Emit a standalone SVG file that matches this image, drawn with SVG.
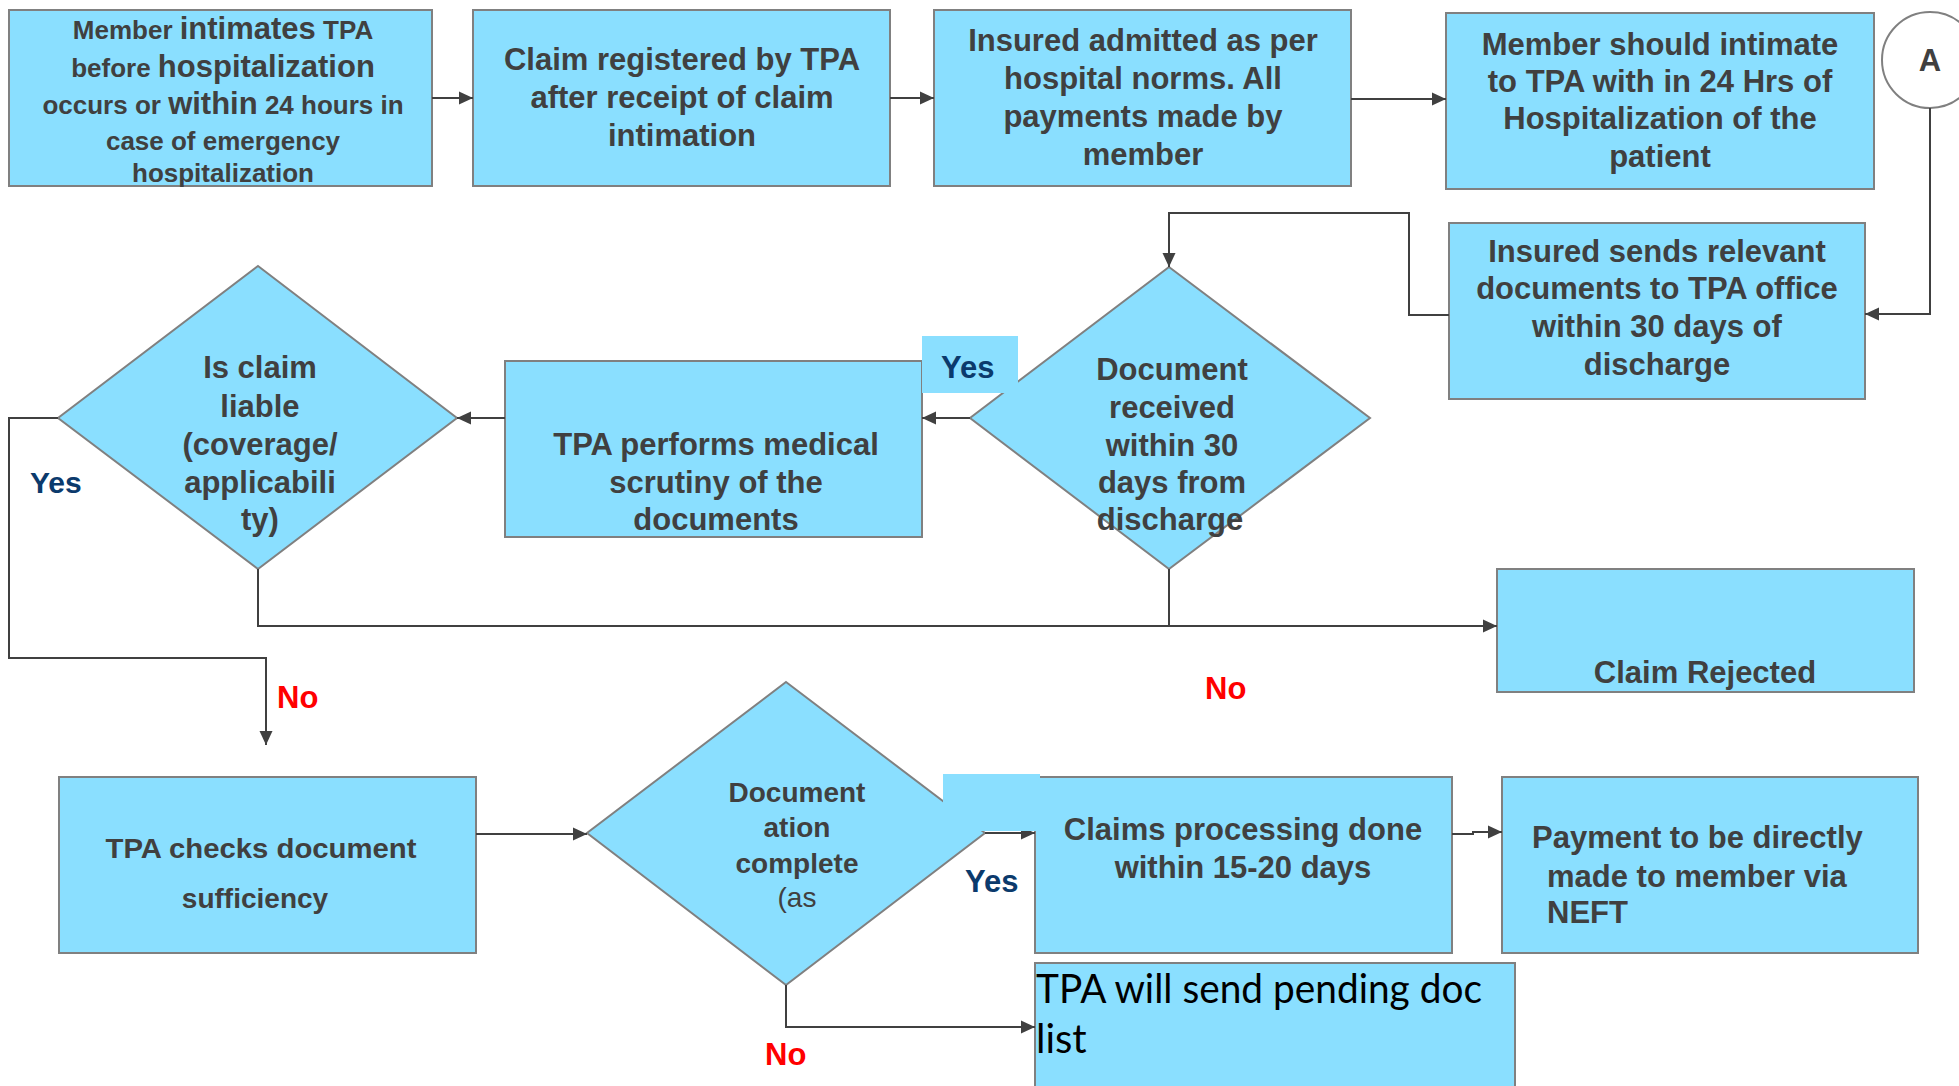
<svg xmlns="http://www.w3.org/2000/svg" width="1959" height="1086" viewBox="0 0 1959 1086">
  <style>
    .box { fill: #8ADFFF; stroke: #808080; stroke-width: 2; }
    .dia { fill: #8ADFFF; stroke: #808080; stroke-width: 2; }
    .tag { fill: #8ADFFF; stroke: none; }
    .t { font-family: "Liberation Sans", Arial, sans-serif; font-weight: bold; font-size: 31px; fill: #404040; text-anchor: middle; }
    .s { font-size: 26px; }
    .m { font-size: 28px; }
    .l { text-anchor: start; }
    .yes { font-family: "Liberation Sans", Arial, sans-serif; font-weight: bold; font-size: 31px; fill: #0B3A6C; }
    .no { font-family: "Liberation Sans", Arial, sans-serif; font-weight: bold; font-size: 31px; fill: #FF0000; }
    .link { fill: none; stroke: #404040; stroke-width: 2; }
  </style>
  <defs>
    <marker id="arrow" markerUnits="userSpaceOnUse" markerWidth="16" markerHeight="16" refX="15" refY="8" orient="auto">
      <path d="M1,1.5 L15,8 L1,14.5 z" fill="#404040"/>
    </marker>
  </defs>

  <rect width="1959" height="1086" fill="#FFFFFF"/>

  <!-- process boxes and decisions -->
  <g id="node-member-intimates">
    <rect class="box" x="9" y="10" width="423" height="176"/>
    <text class="t" x="223" y="39"><tspan class="s">Member </tspan>intimates<tspan class="s"> TPA</tspan></text>
    <text class="t" x="223" y="77"><tspan class="s">before </tspan>hospitalization</text>
    <text class="t" x="223" y="114"><tspan class="s">occurs or </tspan>within<tspan class="s"> 24 hours in</tspan></text>
    <text class="t s" x="223" y="150">case of emergency</text>
    <text class="t s" x="223" y="182">hospitalization</text>
  </g>

  <g id="node-claim-registered">
    <rect class="box" x="473" y="10" width="417" height="176"/>
    <text class="t" x="682" y="70">Claim registered by TPA</text>
    <text class="t" x="682" y="108">after receipt of claim</text>
    <text class="t" x="682" y="146">intimation</text>
  </g>

  <g id="node-insured-admitted">
    <rect class="box" x="934" y="10" width="417" height="176"/>
    <text class="t" x="1143" y="51">Insured admitted as per</text>
    <text class="t" x="1143" y="89">hospital norms. All</text>
    <text class="t" x="1143" y="127">payments made by</text>
    <text class="t" x="1143" y="165">member</text>
  </g>

  <g id="node-intimate-24hrs">
    <rect class="box" x="1446" y="13" width="428" height="176"/>
    <text class="t" x="1660" y="55">Member should intimate</text>
    <text class="t" x="1660" y="92">to TPA with in 24 Hrs of</text>
    <text class="t" x="1660" y="129">Hospitalization of the</text>
    <text class="t" x="1660" y="167">patient</text>
  </g>

  <g id="node-connector-a">
    <circle cx="1930" cy="60" r="48" fill="#FFFFFF" stroke="#808080" stroke-width="2"/>
    <text class="t" x="1930" y="71">A</text>
  </g>

  <g id="node-insured-sends">
    <rect class="box" x="1449" y="223" width="416" height="176"/>
    <text class="t" x="1657" y="262">Insured sends relevant</text>
    <text class="t" x="1657" y="299">documents to TPA office</text>
    <text class="t" x="1657" y="337">within 30 days of</text>
    <text class="t" x="1657" y="375">discharge</text>
  </g>

  <g id="node-document-received">
    <polygon class="dia" points="1169,267 1370,418 1169,569 970,418"/>
    <text class="t" x="1172" y="380">Document</text>
    <text class="t" x="1172" y="418">received</text>
    <text class="t" x="1172" y="456">within  30</text>
    <text class="t" x="1172" y="493">days  from</text>
    <text class="t" x="1170" y="530">discharge</text>
  </g>

  <g id="node-medical-scrutiny">
    <rect class="box" x="505" y="361" width="417" height="176"/>
    <text class="t" x="716" y="455">TPA performs medical</text>
    <text class="t" x="716" y="493">scrutiny of the</text>
    <text class="t" x="716" y="530">documents</text>
  </g>

  <g id="node-claim-liable">
    <polygon class="dia" points="258,266 457,418 258,569 58,418"/>
    <text class="t" x="260" y="378">Is claim</text>
    <text class="t" x="260" y="417">liable</text>
    <text class="t" x="260" y="455">(coverage/</text>
    <text class="t" x="260" y="493">applicabili</text>
    <text class="t" x="260" y="530">ty)</text>
  </g>

  <g id="node-claim-rejected">
    <rect class="box" x="1497" y="569" width="417" height="123"/>
    <text class="t" x="1705" y="683">Claim Rejected</text>
  </g>

  <g id="node-document-sufficiency">
    <rect class="box" x="59" y="777" width="417" height="176"/>
    <text class="t m" x="261" y="858" textLength="311" lengthAdjust="spacingAndGlyphs">TPA checks document</text>
    <text class="t m" x="255" y="908">sufficiency</text>
  </g>

  <g id="node-documentation-complete">
    <polygon class="dia" points="786,682 985,833 786,985 587,833"/>
    <text class="t m" x="797" y="802">Document</text>
    <text class="t m" x="797" y="837">ation</text>
    <text class="t m" x="797" y="873">complete</text>
    <text class="t m" x="797" y="907" style="font-weight: normal">(as</text>
  </g>

  <g id="node-claims-processing">
    <rect class="box" x="1035" y="777" width="417" height="176"/>
    <text class="t" x="1243" y="840">Claims processing done</text>
    <text class="t" x="1243" y="878">within 15-20 days</text>
  </g>

  <g id="node-payment">
    <rect class="box" x="1502" y="777" width="416" height="176"/>
    <text class="t l" x="1532" y="848">Payment to be directly</text>
    <text class="t l" x="1547" y="887">made to member via</text>
    <text class="t l" x="1547" y="923">NEFT</text>
  </g>

  <g id="node-pending-docs">
    <rect class="box" x="1035" y="963" width="480" height="140"/>
    <text x="1036" y="1003" font-family="Lato, 'Open Sans', sans-serif" font-size="40" fill="#000000" textLength="446" lengthAdjust="spacingAndGlyphs">TPA will send pending doc</text>
    <text x="1036" y="1053" font-family="Lato, 'Open Sans', sans-serif" font-size="40" fill="#000000">list</text>
  </g>

  <!-- connectors -->
  <g id="connectors">
    <path class="link" d="M432,98 L473,98" marker-end="url(#arrow)"/>
    <path class="link" d="M890,98 L934,98" marker-end="url(#arrow)"/>
    <path class="link" d="M1351,99 L1446,99" stroke-width="3" marker-end="url(#arrow)"/>
    <path class="link" d="M1930,108 L1930,314 L1865,314" marker-end="url(#arrow)"/>
    <path class="link" d="M1449,315 L1409,315 L1409,213 L1169,213 L1169,267" marker-end="url(#arrow)"/>
    <path class="link" d="M970,418 L922,418" marker-end="url(#arrow)"/>
    <path class="link" d="M505,418 L457,418" marker-end="url(#arrow)"/>
    <path class="link" d="M258,569 L258,626 L1497,626" marker-end="url(#arrow)"/>
    <path class="link" d="M1169,569 L1169,626"/>
    <path class="link" d="M58,418 L9,418 L9,658 L266,658 L266,745" marker-end="url(#arrow)"/>
    <path class="link" d="M476,834 L587,834" marker-end="url(#arrow)"/>
    <path class="link" d="M985,833 L1035,833" marker-end="url(#arrow)"/>
    <path class="link" d="M786,985 L786,1027 L1035,1027" marker-end="url(#arrow)"/>
    <path class="link" d="M1452,834 L1473,834 L1473,832 L1502,832" marker-end="url(#arrow)"/>
  </g>

  <!-- branch labels -->
  <g id="labels">
    <rect class="tag" x="922" y="336" width="96" height="57"/>
    <text class="yes" x="941" y="378">Yes</text>
    <rect class="tag" x="943" y="774" width="97" height="57"/>
    <text class="yes" x="965" y="892">Yes</text>
    <text class="yes" x="30" y="493" style="font-size: 30px">Yes</text>
    <text class="no" x="277" y="708">No</text>
    <text class="no" x="1205" y="699">No</text>
    <text class="no" x="765" y="1065">No</text>
  </g>
</svg>
